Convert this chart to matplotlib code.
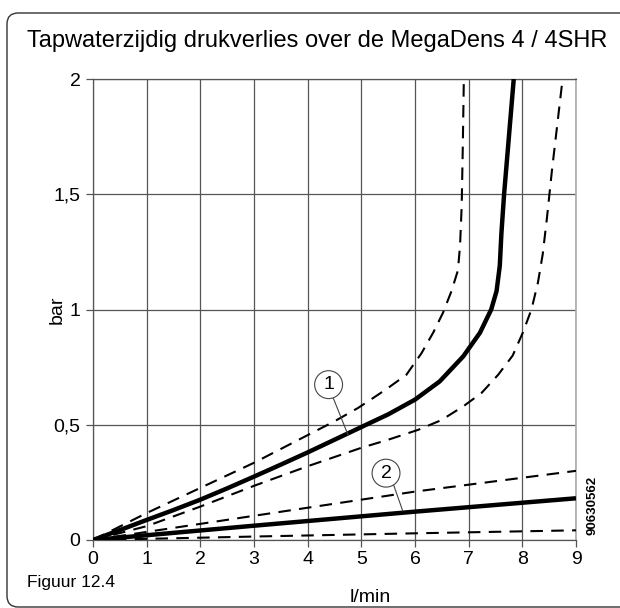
import matplotlib
matplotlib.use("Agg")
import matplotlib.pyplot as plt
from matplotlib.patches import FancyBboxPatch

plt.rcParams['font.family'] = ['Liberation Sans', 'DejaVu Sans']

title = "Tapwaterzijdig drukverlies over de MegaDens 4 / 4SHR"
xlabel = "l/min"
ylabel = "bar"
fig_label = "Figuur 12.4"
code_label = "90630562"
x_ticks = [0, 1, 2, 3, 4, 5, 6, 7, 8, 9]
y_ticks = [0, 0.5, 1, 1.5, 2]
y_ticklabels = ["0", "0,5", "1", "1,5", "2"]

# Curve 1 (solid) and its dashed envelopes
c1_x = [0, 0.5, 1, 1.5, 2, 2.5, 3, 3.5, 4, 4.5, 5, 5.5, 6, 6.46, 6.9,
        7.21, 7.42, 7.52, 7.58, 7.61, 7.66, 7.75, 7.84]
c1_y = [0, 0.043, 0.087, 0.13, 0.175, 0.224, 0.275, 0.327, 0.38, 0.435, 0.49, 0.545, 0.609, 0.688, 0.797,
        0.899, 1.0, 1.08, 1.19, 1.33, 1.5, 1.75, 2.0]
c1u_x = [0, 1, 2, 3, 4, 4.5, 4.94, 5.31, 5.5, 5.84, 6.12, 6.34, 6.52, 6.68, 6.80, 6.84, 6.87, 6.89, 6.91]
c1u_y = [0, 0.117, 0.226, 0.335, 0.455, 0.515, 0.573, 0.63, 0.66, 0.717, 0.81, 0.90, 0.985, 1.08, 1.17, 1.28, 1.45, 1.7, 2.0]
c1l_x = [0, 1, 2, 3, 4, 5, 5.5, 6.06, 6.49, 6.9, 7.24, 7.55, 7.82, 8.01, 8.17, 8.29, 8.38, 8.46, 8.55, 8.65, 8.75]
c1l_y = [0, 0.06, 0.145, 0.235, 0.32, 0.40, 0.435, 0.478, 0.52, 0.58, 0.638, 0.717, 0.80, 0.90, 1.0, 1.116, 1.24, 1.4, 1.6, 1.8, 2.0]

# Curve 2 (solid) and its dashed envelopes
c2_x = [0, 3, 6, 9]
c2_y = [0, 0.062, 0.123, 0.181]
c2u_x = [0, 3, 6, 9]
c2u_y = [0, 0.105, 0.21, 0.30]
c2l_x = [0, 3, 6, 9]
c2l_y = [0, 0.015, 0.029, 0.042]

fig = plt.figure(figsize=(6.2, 6.08), dpi=100)
ax = fig.add_axes([93/620, 1-540/608, (576-93)/620, (540-79)/608])

dash = (0, (6, 4))
kw_s = dict(color='black', lw=3.2, solid_capstyle='butt', solid_joinstyle='round', zorder=3)
kw_d = dict(color='black', lw=1.5, linestyle=dash, zorder=3)
ax.plot(c1_x, c1_y, **kw_s)
ax.plot(c1u_x, c1u_y, **kw_d)
ax.plot(c1l_x, c1l_y, **kw_d)
ax.plot(c2_x, c2_y, **kw_s)
ax.plot(c2u_x, c2u_y, **kw_d)
ax.plot(c2l_x, c2l_y, **kw_d)

ax.set_xlim(0, 9)
ax.set_ylim(0, 2)
ax.set_xticks(x_ticks)
ax.set_xticklabels([str(v) for v in x_ticks])
ax.set_yticks(y_ticks)
ax.set_yticklabels(y_ticklabels)
ax.grid(True, color='#555555', lw=0.9)
ax.set_axisbelow(True)
for s in ['left', 'bottom', 'top']:
    ax.spines[s].set_color('#555555')
    ax.spines[s].set_linewidth(0.9)
ax.spines['right'].set_color('#aaaaaa')
ax.spines['right'].set_linewidth(1.2)
ax.tick_params(axis='both', labelsize=14, color='#555555', length=5, width=0.9, direction='out')
ax.tick_params(axis='x', pad=3)
ax.tick_params(axis='y', pad=4)


def circ_label(cx, cy, text, lx0, ly0, lx1, ly1):
    ax.plot([lx0, lx1], [ly0, ly1], color='#444444', lw=0.8, zorder=4)
    ax.annotate(text, (cx, cy), ha='center', va='center', fontsize=14, zorder=6,
                bbox=dict(boxstyle='circle,pad=0.28', fc='white', ec='#444444', lw=0.8))


circ_label(4.39, 0.674, "1", 4.47, 0.62, 4.75, 0.457)
circ_label(5.46, 0.29, "2", 5.6, 0.24, 5.77, 0.127)

fig.text(370/620, 1-597/608, xlabel, ha='center', va='center', fontsize=14)
fig.text(57/620, 1-310/608, ylabel, ha='center', va='center', fontsize=14, rotation=90)
fig.text(27/620, 1-583/608, fig_label, ha='left', va='center', fontsize=12.5)
fig.text(592/620, 1-505/608, code_label, ha='center', va='center', fontsize=9.5,
         rotation=90, fontweight='bold')
fig.text(27/620, 1-41/608, title, ha='left', va='center', fontsize=17)

box = FancyBboxPatch((7/620, 1/608), 640/620, (607-12-1)/608,
                     boxstyle='round,pad=0,rounding_size=0.018',
                     transform=fig.transFigure, fc='none', ec='#333333', lw=1.0)
fig.patches.append(box)

fig.savefig("out.png", dpi=100)
